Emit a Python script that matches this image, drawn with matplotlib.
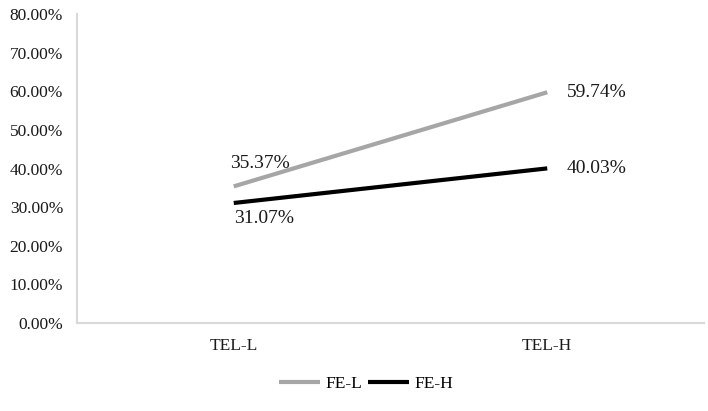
import matplotlib
matplotlib.use("Agg")
import matplotlib.pyplot as plt
from matplotlib.ticker import FuncFormatter

categories = ["TEL-L", "TEL-H"]
fe_l = [35.37, 59.74]
fe_h = [31.07, 40.03]
yticks = [0, 10, 20, 30, 40, 50, 60, 70, 80]

plt.rcParams['font.family'] = ['Liberation Serif', 'DejaVu Serif']

fig = plt.figure(figsize=(7.08, 4.11), dpi=100)
ax = fig.add_axes([77/708, 1-323/411, (704-77)/708, (323-14)/411])

x = [0.5, 1.5]
l1, = ax.plot(x, fe_l, color='#a6a6a6', lw=3, solid_capstyle='butt', label='FE-L')
l2, = ax.plot(x, fe_h, color='#000000', lw=3, solid_capstyle='butt', label='FE-H')

ax.set_xlim(0, 2)
ax.set_ylim(0, 80)
ax.set_yticks(yticks)
ax.yaxis.set_major_formatter(FuncFormatter(lambda v, p: f"{v:.2f}%"))
ax.set_xticks(x)
ax.set_xticklabels(categories)
ax.tick_params(axis='both', length=0, labelsize=12.5, colors='#1a1a1a')
ax.tick_params(axis='y', pad=10)
ax.tick_params(axis='x', pad=11)

for s in ['top', 'right']:
    ax.spines[s].set_visible(False)
for s in ['left', 'bottom']:
    ax.spines[s].set_color('#d9d9d9')
    ax.spines[s].set_linewidth(1.5)

offsets_l = [(26, 23), (49, 0)]
offsets_h = [(30, -16), (49, 0)]
for xi, v, off in zip(x, fe_l, offsets_l):
    ax.annotate(f"{v:.2f}%", (xi, v), xytext=off, textcoords='offset pixels',
                ha='center', va='center', fontsize=14, color='#1a1a1a')
for xi, v, off in zip(x, fe_h, offsets_h):
    ax.annotate(f"{v:.2f}%", (xi, v), xytext=off, textcoords='offset pixels',
                ha='center', va='center', fontsize=14, color='#1a1a1a')

fig.legend(handles=[l1, l2], loc='center', bbox_to_anchor=(366/708, 1-384/411),
           ncol=2, frameon=False, fontsize=12.5, handlelength=2.4,
           handletextpad=0.3, columnspacing=0.3)

fig.savefig("out.png", dpi=100)
